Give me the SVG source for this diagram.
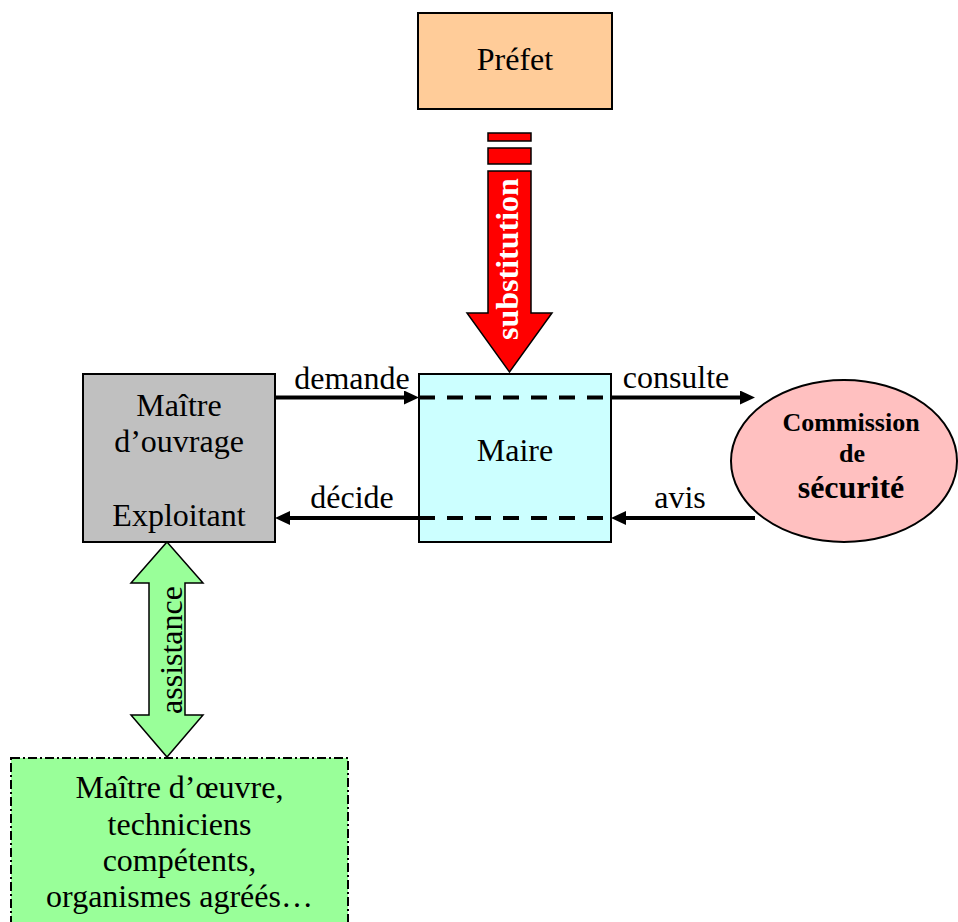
<svg xmlns="http://www.w3.org/2000/svg" width="958" height="922" viewBox="0 0 958 922">
<style>
  text { font-family: "Liberation Serif", "Times New Roman", serif; fill: #000; }
  .t32 { font-size: 32px; }
  .c { text-anchor: middle; }
  .b { font-weight: bold; }
  .box { stroke: #000; stroke-width: 2; }
  .line { stroke: #000; stroke-width: 4; fill: none; }
  .dash { stroke: #000; stroke-width: 4; stroke-dasharray: 16 12; fill: none; }
</style>
<defs>
  <marker id="ah" markerUnits="userSpaceOnUse" markerWidth="15" markerHeight="14" refX="2" refY="7" orient="auto">
    <path d="M0,0 L15,7 L0,14 z" fill="#000"/>
  </marker>
</defs>
<rect width="958" height="922" fill="#fff"/>

<g id="prefet">
  <rect class="box" x="418" y="13" width="194" height="96" fill="#FFCC99"/>
  <text class="t32 c" x="515" y="70">Préfet</text>
</g>

<g id="substitution">
  <rect x="488" y="133" width="43" height="8" fill="#FF0000" stroke="#000" stroke-width="1.5"/>
  <rect x="488" y="148" width="43" height="16" fill="#FF0000" stroke="#000" stroke-width="1.5"/>
  <path d="M488,171 L531,171 L531,313 L552,313 L509.5,372 L467,313 L488,313 Z" fill="#FF0000" stroke="#000" stroke-width="1.5"/>
  <text class="t32 c b" transform="translate(518,259) rotate(-90)" x="0" y="0" style="fill:#fff">substitution</text>
</g>

<g id="maitre-ouvrage">
  <rect class="box" x="83" y="374" width="192" height="168" fill="#C0C0C0"/>
  <text class="t32 c" x="179" y="416">Maître</text>
  <text class="t32 c" x="179" y="452">d’ouvrage</text>
  <text class="t32 c" x="179" y="526">Exploitant</text>
</g>

<g id="maire">
  <rect class="box" x="419" y="374" width="192" height="168" fill="#CCFFFF"/>
  <text class="t32 c" x="515" y="461">Maire</text>
</g>

<g id="commission">
  <ellipse class="box" cx="844" cy="461" rx="113" ry="81" fill="#FFC0C0"/>
  <text class="c b" style="font-size:26px" x="851" y="431">Commission</text>
  <text class="c b" style="font-size:26px" x="852" y="462">de</text>
  <text class="c b t32" x="851" y="498">sécurité</text>
</g>

<g id="assistance">
  <path d="M167,542 L203,583 L185,583 L185,715 L203,715 L167,757 L131,715 L149,715 L149,583 L131,583 Z" fill="#99FF99" stroke="#000" stroke-width="1.5"/>
  <text class="t32 c" transform="translate(182,650) rotate(-90)" x="0" y="0">assistance</text>
</g>

<g id="maitre-oeuvre">
  <rect x="11" y="758" width="337" height="180" fill="#99FF99" stroke="#000" stroke-width="2" stroke-dasharray="9 3 2 3"/>
  <text class="t32 c" x="179.5" y="798">Maître d’œuvre,</text>
  <text class="t32 c" x="179.5" y="835">techniciens</text>
  <text class="t32 c" x="179.5" y="871">compétents,</text>
  <text class="t32 c" x="179.5" y="907">organismes agréés…</text>
</g>

<g id="connectors">
  <line class="line" x1="275" y1="397.5" x2="406" y2="397.5" marker-end="url(#ah)"/>
  <line class="dash" x1="419" y1="397.5" x2="611" y2="397.5"/>
  <line class="line" x1="611" y1="397.5" x2="742" y2="397.5" marker-end="url(#ah)"/>
  <line class="line" x1="755" y1="518" x2="624" y2="518" marker-end="url(#ah)"/>
  <line class="dash" x1="419" y1="518" x2="611" y2="518"/>
  <line class="line" x1="419" y1="518" x2="288" y2="518" marker-end="url(#ah)"/>
  <text class="t32 c" x="352" y="389">demande</text>
  <text class="t32 c" x="676" y="388">consulte</text>
  <text class="t32 c" x="352" y="508">décide</text>
  <text class="t32 c" x="680" y="508">avis</text>
</g>
</svg>
